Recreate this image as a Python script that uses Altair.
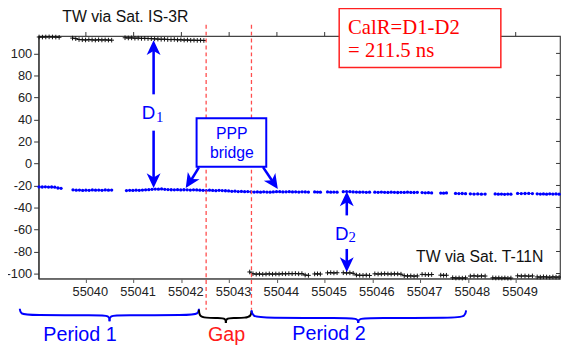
import altair as alt
import pandas as pd

# ---------------- data ----------------
# (segment start MJD, segment end MJD, values in ns)
IS3R_SEGMENTS = [
    (55039.02, 55039.44, [114.9, 114.8, 114.9, 115.0, 114.9, 114.8, 114.6]),
    (55039.72, 55040.54, [113.9, 113.4, 112.6, 112.4, 112.2, 112.5, 112.3, 112.1, 112.4, 112.2, 112.3, 112.1, 112.0]),
    (55040.82, 55042.47, [114.2, 114.0, 114.1, 113.8, 113.9, 113.6, 113.7, 113.5, 113.4, 113.2, 113.0, 112.8, 112.9,
                          112.6, 112.5, 112.7, 112.3, 112.4, 112.1, 112.2, 111.9, 112.0, 111.8, 111.9, 111.7]),
]

PPP_SEGMENTS = [
    (55039.02, 55039.48, [-21.3, -21.4, -21.2, -21.5, -21.4, -21.6, -22.3, -22.6]),
    (55039.73, 55040.54, [-24.0, -24.3, -24.2, -24.5, -24.3, -24.4, -24.1, -24.3, -24.2, -24.4, -24.1, -24.3, -24.2]),
    (55040.85, 55044.66, [-24.6, -24.4, -24.5, -24.3, -24.4, -24.2, -24.0, -23.8,
                          -23.5, -23.3, -23.4, -23.2, -23.5,
                          -23.7, -23.9, -24.0, -23.8, -24.1, -23.9, -24.0, -24.2, -24.0, -24.1, -24.3,
                          -24.4, -24.6, -24.3, -24.5, -24.7, -24.4, -24.6, -24.8,
                          -25.0, -25.3, -25.2, -25.5, -25.4, -25.6, -25.5,
                          -25.8, -26.0, -25.9, -26.1, -25.8, -26.0, -26.1, -25.9,
                          -25.6, -25.7, -25.9, -25.8, -25.7, -25.9, -25.8, -26.0, -25.8, -25.9, -26.0]),
    (55044.79, 55044.91, [-25.9, -26.0, -26.1]),
    (55045.06, 55045.26, [-25.9, -26.1, -26.0, -26.1]),
    (55045.39, 55045.94, [-25.6, -25.5, -25.7, -25.9, -26.0, -26.1, -26.0, -26.2, -26.1]),
    (55046.05, 55046.94, [-26.1, -26.2, -26.0, -26.2, -26.3, -26.1, -26.2, -26.4, -26.2, -26.3, -26.1, -26.3, -26.4, -26.2]),
    (55047.04, 55047.24, [-26.5, -26.7, -26.6, -26.8]),
    (55047.43, 55047.55, [-26.9, -27.0, -26.8]),
    (55047.74, 55047.95, [-27.2, -27.4, -27.3, -27.5]),
    (55048.05, 55048.36, [-27.6, -27.8, -27.7, -27.9, -27.8]),
    (55048.57, 55048.90, [-27.7, -27.9, -27.8, -28.0, -27.8, -27.9]),
    (55049.04, 55049.35, [-27.2, -27.4, -27.3, -27.2, -27.4]),
    (55049.45, 55049.91, [-27.6, -27.8, -27.7, -27.9, -27.6, -27.8, -27.7, -27.9]),
]

T11N_SEGMENTS = [
    (55043.43, 55044.66, [-98.6, -100.2, -100.6, -100.4, -100.7, -100.5, -100.3, -100.6, -100.4, -100.5,
                          -100.2, -100.3, -100.1, -100.2, -100.0, -100.3, -100.1, -101.4, -101.7]),
    (55044.79, 55044.91, [-100.4, -100.3, -100.5]),
    (55045.06, 55045.26, [-99.4, -99.2, -99.5, -99.3]),
    (55045.39, 55045.94, [-99.3, -99.5, -99.4, -99.8, -101.4, -101.6, -101.7, -101.5, -101.8]),
    (55046.05, 55046.94, [-100.3, -100.5, -100.4, -100.2, -100.4, -100.5, -100.3, -100.4, -100.6,
                          -102.0, -102.3, -102.1, -102.4, -102.2]),
    (55047.04, 55047.24, [-100.8, -101.0, -101.1, -100.9]),
    (55047.43, 55047.55, [-101.5, -101.7, -101.6]),
    (55047.68, 55047.95, [-103.8, -104.1, -104.0, -104.2, -103.9]),
    (55048.05, 55048.36, [-102.3, -102.1, -102.4, -102.2, -102.3]),
    (55048.52, 55048.90, [-103.9, -104.1, -104.0, -104.2, -104.0, -104.3, -104.1]),
    (55049.04, 55049.35, [-102.1, -102.3, -102.2, -102.4, -102.2]),
    (55049.45, 55049.91, [-103.1, -103.3, -103.0, -103.2, -103.4, -103.1, -103.3, -103.2]),
]

X_TICKS = [55040, 55041, 55042, 55043, 55044, 55045, 55046, 55047, 55048, 55049]
Y_TICKS = [-100, -80, -60, -40, -20, 0, 20, 40, 60, 80, 100]
X_DOMAIN = [55039.009, 55049.928]
Y_DOMAIN = [-104.57, 115.76]
TOP_TICK_V = [115.76, 119.4]          # top-frame tick marks, pointing up
RIGHT_TICK_T = [55049.928, 55049.845]  # right-frame tick marks, pointing in

# annotation anchors (data units)
GAP_LINES_T = [55042.518, 55043.467]
GAP_LINES_V = [126.0, -133.0]

ARROW_SHAFTS = [  # t, v, t2, v2
    (55041.418, 102.9, 55041.418, 62.8),
    (55041.418, 29.8, 55041.418, -13.2),
    (55045.463, -33.8, 55045.463, -47.2),
    (55045.463, -77.7, 55045.463, -89.4),
    (55042.367, -3.6, 55042.19, -16.0),
    (55043.709, -3.36, 55043.915, -16.6),
]
ARROW_HEADS = [  # tip t, tip v, direction (deg)
    (55041.418, 111.9, 0),
    (55041.418, -22.4, 180),
    (55045.463, -25.5, 0),
    (55045.463, -98.6, 180),
    (55042.091, -22.4, 212.5),
    (55044.019, -23.3, 146.1),
]

BRACES = {  # name -> (colour, left half points, right half points)
    "Period 1": ("#0000ff",
                 [(55038.617, -132.05), (55038.627, -136.8), (55038.817, -137.98), (55040.268, -137.98), (55040.495, -138.15), (55040.495, -143.35)],
                 [(55040.495, -143.35), (55040.495, -138.15), (55040.722, -137.98), (55042.167, -137.98), (55042.357, -136.8), (55042.367, -132.05)]),
    "Gap": ("#000000",
            [(55042.367, -132.96), (55042.374, -138.6), (55042.498, -140.39), (55042.786, -140.39), (55042.931, -140.84), (55042.931, -144.87)],
            [(55042.931, -144.87), (55042.931, -140.84), (55043.075, -140.39), (55043.344, -140.39), (55043.461, -138.6), (55043.467, -134.1)]),
    "Period 2": ("#0000ff",
                 [(55043.467, -133.2), (55043.488, -139.05), (55043.695, -140.39), (55045.428, -140.39), (55045.703, -140.84), (55045.703, -144.87)],
                 [(55045.703, -144.87), (55045.703, -140.84), (55045.986, -140.39), (55047.74, -140.39), (55047.946, -139.05), (55047.961, -133.5)]),
}

BRACE_LABELS = [("Period 1", 55039.876, -161.0, "#0000ff"),
                ("Gap", 55042.945, -161.0, "#ff1a1a"),
                ("Period 2", 55045.092, -160.7, "#0000ff")]

CALR_BOX = (55045.304, 140.84, 55048.689, 87.1)
CALR_TEXT = [("CalR=D1-D2", 55045.49, 117.8), ("= 211.5 ns", 55045.49, 97.0)]
PPP_BOX = (55042.318, 41.15, 55043.777, -3.09)
PPP_TEXT = [("PPP", 55043.055, 22.3), ("bridge", 55043.055, 5.0)]
D_LABELS = [("D", 55041.170, 40.5, "1", 55041.47, 37.97),
            ("D", 55045.216, -69.4, "2", 55045.50, -71.7)]
LINK_LABELS = [("TW via Sat. IS-3R", 55039.505, 128.9),
               ("TW via Sat. T-11N", 55046.914, -89.6)]

# ---------------- build tables ----------------
def expand(name, segs):
    rows = []
    for k, (t0, t1, vals) in enumerate(segs):
        n = len(vals)
        for i, v in enumerate(vals):
            t = t0 + (t1 - t0) * i / (n - 1) if n > 1 else t0
            rows.append({"series": name, "seg": f"{name}{k}", "t": t, "v": v})
    return rows

df_black = pd.DataFrame(expand("IS3R", IS3R_SEGMENTS) + expand("T11N", T11N_SEGMENTS))
df_ppp = pd.DataFrame(expand("PPP", PPP_SEGMENTS))

xs = alt.Scale(domain=X_DOMAIN, nice=False, zero=False)
ys = alt.Scale(domain=Y_DOMAIN, nice=False, zero=False)

BLUE = "#0000ff"
PLUS = "M-1,0L1,0M0,-1L0,1"
HEAD = "M0,0L0.47,1L0,0.72L-0.47,1Z"

label_expr = "toString(datum.value)"

# identical axis definitions on every layer so that the shared axes merge cleanly
bottom_axis = alt.Axis(orient="bottom", values=X_TICKS, title="", labelExpr=label_expr,
                       labelFont="Liberation Sans", labelFontSize=13, labelColor="#222",
                       tickSize=4, labelPadding=3, labelOffset=4, grid=False,
                       domainColor="#666", domainWidth=1.6, tickColor="#555")
left_axis = alt.Axis(orient="left", values=Y_TICKS, title="", labelExpr=label_expr,
                     labelFont="Liberation Sans", labelFontSize=13, labelColor="#222",
                     tickSize=5, labelPadding=2, grid=False,
                     domainColor="#333", domainWidth=1.2, tickColor="#333")


def X(f="t"):
    return alt.X(f"{f}:Q", scale=xs, axis=bottom_axis)


def Y(f="v"):
    return alt.Y(f"{f}:Q", scale=ys, axis=left_axis)


black_lines = alt.Chart(df_black).mark_line(color="#111", strokeWidth=1).encode(
    x=X(), y=Y(), detail="seg:N")
black_plus = alt.Chart(df_black).mark_point(shape=PLUS, filled=False, color="#111",
                                            strokeWidth=1, size=22, opacity=1).encode(
    x=X(), y=Y())
ppp_lines = alt.Chart(df_ppp).mark_line(color=BLUE, strokeWidth=0.8).encode(
    x=X(), y=Y(), detail="seg:N")
ppp_pts = alt.Chart(df_ppp).mark_point(filled=True, color=BLUE, size=11, opacity=1).encode(
    x=X(), y=Y())

top_ticks = alt.Chart(pd.DataFrame({"t": X_TICKS, "v": [TOP_TICK_V[0]] * len(X_TICKS),
                                    "v2": [TOP_TICK_V[1]] * len(X_TICKS)})).mark_rule(
    color="#333", strokeWidth=1).encode(x=X(), y=Y(), y2="v2:Q")
right_ticks = alt.Chart(pd.DataFrame({"v": Y_TICKS, "t": [RIGHT_TICK_T[0]] * len(Y_TICKS),
                                      "t2": [RIGHT_TICK_T[1]] * len(Y_TICKS)})).mark_rule(
    color="#333", strokeWidth=1).encode(x=X(), x2="t2:Q", y=Y())

gap_df = pd.DataFrame({"t": GAP_LINES_T, "v": [GAP_LINES_V[0]] * 2, "v2": [GAP_LINES_V[1]] * 2})
gap_lines = alt.Chart(gap_df).mark_rule(color="#ff4d4d", strokeDash=[4, 3], strokeWidth=1.3).encode(
    x=X(), y=Y(), y2="v2:Q")

shaft_df = pd.DataFrame(ARROW_SHAFTS, columns=["t", "v", "t2", "v2"])
shafts = alt.Chart(shaft_df).mark_rule(color=BLUE, strokeWidth=2.6).encode(
    x=X(), y=Y(), x2="t2:Q", y2="v2:Q")

heads = []
for (t, v, a) in ARROW_HEADS:
    heads.append(alt.Chart(pd.DataFrame({"t": [t], "v": [v]})).mark_point(
        shape=HEAD, filled=True, color=BLUE, size=900, angle=a, opacity=1, strokeWidth=0.5).encode(
        x=X(), y=Y()))

brace_layers = []
for name, (col, left, right) in BRACES.items():
    rows = []
    for part, pts in (("l", left), ("r", right)):
        for i, (t, v) in enumerate(pts):
            rows.append({"part": part, "o": i, "t": t, "v": v})
    brace_layers.append(alt.Chart(pd.DataFrame(rows)).mark_line(
        color=col, strokeWidth=2, interpolate="basis").encode(
        x=X(), y=Y(), detail="part:N", order="o:Q"))

brace_text = []
for (txt, t, v, col) in BRACE_LABELS:
    brace_text.append(alt.Chart(pd.DataFrame({"t": [t], "v": [v], "s": [txt]})).mark_text(
        font="Liberation Sans", fontSize=20, color=col, align="center", baseline="alphabetic").encode(
        x=X(), y=Y(), text="s:N"))

calr_box = alt.Chart(pd.DataFrame({"t": [CALR_BOX[0]], "v": [CALR_BOX[1]], "t2": [CALR_BOX[2]], "v2": [CALR_BOX[3]]})).mark_rect(
    fill="white", stroke="#ff2020", strokeWidth=1.5).encode(x=X(), y=Y(), x2="t2:Q", y2="v2:Q")
calr_text = alt.Chart(pd.DataFrame(CALR_TEXT, columns=["s", "t", "v"])).mark_text(
    font="Liberation Serif", fontSize=21, color="#ff0000", align="left", baseline="alphabetic").encode(
    x=X(), y=Y(), text="s:N")

ppp_box = alt.Chart(pd.DataFrame({"t": [PPP_BOX[0]], "v": [PPP_BOX[1]], "t2": [PPP_BOX[2]], "v2": [PPP_BOX[3]]})).mark_rect(
    fill="white", stroke=BLUE, strokeWidth=2).encode(x=X(), y=Y(), x2="t2:Q", y2="v2:Q")
ppp_text = alt.Chart(pd.DataFrame(PPP_TEXT, columns=["s", "t", "v"])).mark_text(
    font="Liberation Sans", fontSize=16, color=BLUE, align="center", baseline="alphabetic").encode(
    x=X(), y=Y(), text="s:N")

d_main = alt.Chart(pd.DataFrame([(d[0], d[1], d[2]) for d in D_LABELS], columns=["s", "t", "v"])).mark_text(
    font="Liberation Sans", fontSize=19, color=BLUE, align="left", baseline="alphabetic").encode(
    x=X(), y=Y(), text="s:N")
d_sub = alt.Chart(pd.DataFrame([(d[3], d[4], d[5]) for d in D_LABELS], columns=["s", "t", "v"])).mark_text(
    font="Liberation Serif", fontSize=15, color=BLUE, align="left", baseline="alphabetic").encode(
    x=X(), y=Y(), text="s:N")

link_text = alt.Chart(pd.DataFrame(LINK_LABELS, columns=["s", "t", "v"])).mark_text(
    font="Liberation Sans", fontSize=16, color="#111", align="left", baseline="alphabetic").encode(
    x=X(), y=Y(), text="s:N")

chart = alt.layer(
    black_lines, black_plus, ppp_lines, ppp_pts, top_ticks, right_ticks, gap_lines,
    *brace_layers, *brace_text,
    calr_box, calr_text, ppp_box, ppp_text,
    shafts, *heads, d_main, d_sub, link_text,
).properties(
    width=529, height=246,
    padding={"left": 31, "top": 26, "right": 1, "bottom": 67},
    autosize=alt.AutoSizeParams(type="none"),
).configure_view(stroke="#444", strokeWidth=1.2)

chart.save("out.html", embed_options={"renderer": "svg", "actions": False})
